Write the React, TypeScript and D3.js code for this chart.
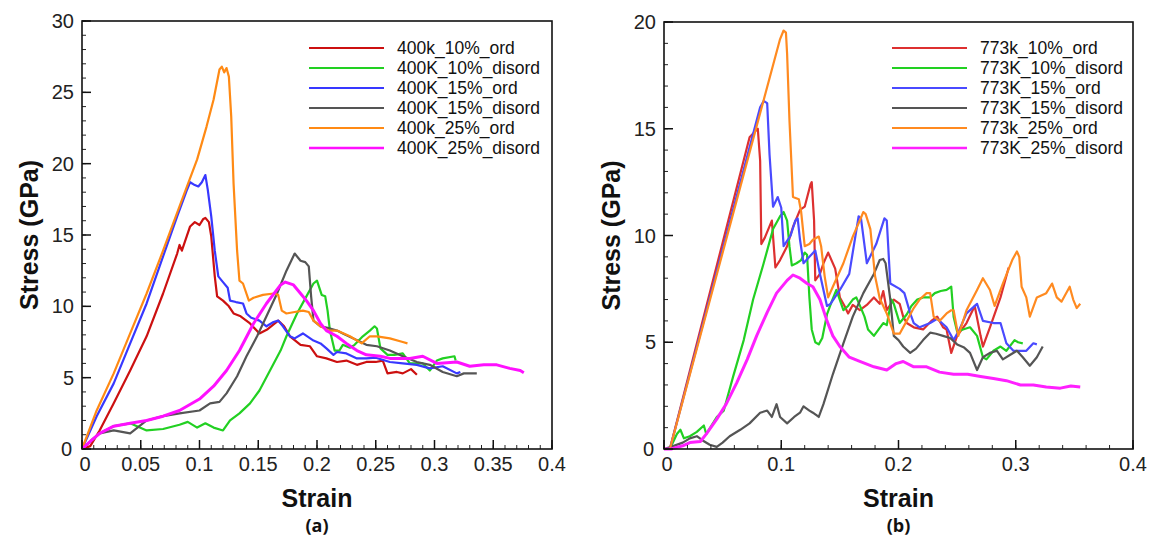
import React from "react";
import * as d3 from "d3";

type P = [number, number];

// ---------- Panel (a): 400 K ----------
const labelsA = ["400k_10%_ord", "400K_10%_disord", "400K_15%_ord", "400K_15%_disord", "400k_25%_ord", "400K_25%_disord"];

const a10ord: P[] = [[0,0],[0.007,0.2],[0.015,1.3],[0.027,3.2],[0.041,5.5],[0.055,7.9],[0.069,10.9],[0.081,13.7],[0.083,14.3],[0.085,13.9],[0.092,15.6],[0.096,15.9],[0.1,15.7],[0.103,16.1],[0.105,16.2],[0.108,15.9],[0.11,14.9],[0.113,12.1],[0.115,10.7],[0.12,10.4],[0.125,10.0],[0.129,9.5],[0.135,9.3],[0.143,8.8],[0.151,8.1],[0.158,8.4],[0.167,9.0],[0.172,8.6],[0.177,7.9],[0.186,7.3],[0.194,7.2],[0.2,6.5],[0.208,6.35],[0.217,6.1],[0.225,6.2],[0.234,5.9],[0.242,6.1],[0.25,6.1],[0.256,6.2],[0.26,5.3],[0.268,5.4],[0.273,5.3],[0.28,5.6],[0.285,5.2]];
const a10dis: P[] = [[0,0],[0.008,0.6],[0.015,1.1],[0.027,1.6],[0.041,1.8],[0.055,1.3],[0.069,1.4],[0.083,1.7],[0.09,1.9],[0.098,1.5],[0.105,1.8],[0.112,1.5],[0.12,1.3],[0.126,2.0],[0.134,2.5],[0.143,3.2],[0.151,4.1],[0.16,5.5],[0.169,6.9],[0.174,7.9],[0.183,9.5],[0.191,10.7],[0.197,11.6],[0.2,11.8],[0.204,10.8],[0.207,10.7],[0.209,9.7],[0.211,8.3],[0.215,6.9],[0.219,6.9],[0.222,7.3],[0.228,7.1],[0.232,7.3],[0.239,7.9],[0.245,8.3],[0.249,8.6],[0.251,8.45],[0.254,7.05],[0.26,6.6],[0.266,6.6],[0.273,6.7],[0.279,6.0],[0.29,6.0],[0.296,5.5],[0.302,6.2],[0.307,6.35],[0.317,6.5],[0.318,6.2]];
const a15ord: P[] = [[0,0],[0.0125,2.3],[0.027,4.6],[0.041,7.4],[0.055,10.2],[0.069,13.5],[0.081,16.3],[0.089,18.1],[0.092,18.7],[0.096,18.5],[0.099,18.4],[0.102,18.7],[0.105,19.2],[0.107,18.2],[0.11,16.3],[0.113,13.9],[0.116,12.1],[0.12,11.7],[0.124,11.3],[0.126,10.4],[0.131,10.3],[0.137,10.2],[0.14,9.5],[0.144,9.2],[0.151,9.0],[0.157,8.6],[0.163,8.9],[0.167,9.0],[0.171,8.6],[0.177,7.9],[0.181,7.75],[0.188,8.1],[0.197,7.6],[0.203,7.4],[0.208,7.05],[0.214,6.6],[0.217,6.8],[0.225,6.7],[0.234,6.35],[0.242,6.35],[0.25,6.4],[0.262,6.1],[0.273,6.0],[0.285,5.9],[0.296,5.65],[0.307,5.8],[0.319,5.3],[0.322,5.4]];
const a15dis: P[] = [[0,0],[0.008,0.6],[0.015,1.1],[0.027,1.3],[0.041,1.1],[0.055,2.0],[0.069,2.3],[0.083,2.5],[0.1,2.7],[0.109,3.2],[0.117,3.3],[0.123,3.9],[0.132,5.1],[0.14,6.5],[0.149,7.9],[0.157,9.3],[0.166,10.9],[0.174,12.5],[0.181,13.7],[0.186,13.2],[0.19,13.1],[0.193,12.8],[0.195,10.7],[0.197,9.0],[0.203,8.6],[0.211,8.45],[0.217,8.3],[0.222,8.1],[0.231,7.75],[0.242,7.3],[0.251,7.2],[0.262,6.9],[0.273,6.5],[0.285,6.1],[0.296,5.9],[0.307,5.4],[0.319,5.1],[0.325,5.3],[0.336,5.3]];
const a25ord: P[] = [[0,0],[0.0125,2.7],[0.027,5.3],[0.041,8.1],[0.055,10.9],[0.069,13.9],[0.083,17.0],[0.098,20.3],[0.106,22.6],[0.112,24.5],[0.117,26.6],[0.119,26.8],[0.121,26.4],[0.123,26.7],[0.125,26.1],[0.127,23.3],[0.129,18.6],[0.132,13.9],[0.134,11.8],[0.137,11.6],[0.142,10.4],[0.146,10.6],[0.154,10.8],[0.163,10.9],[0.167,10.8],[0.17,9.7],[0.174,9.5],[0.181,9.6],[0.188,9.7],[0.193,9.6],[0.197,9.0],[0.203,8.6],[0.21,8.3],[0.217,8.3],[0.228,7.9],[0.238,7.4],[0.245,7.9],[0.251,7.9],[0.262,7.75],[0.273,7.5],[0.277,7.4]];
const a25dis: P[] = [[0,0],[0.008,0.6],[0.015,1.1],[0.027,1.6],[0.041,1.8],[0.055,2.0],[0.069,2.3],[0.083,2.7],[0.1,3.5],[0.112,4.4],[0.123,5.5],[0.134,6.9],[0.146,8.8],[0.157,10.2],[0.169,11.5],[0.173,11.7],[0.18,11.5],[0.186,10.9],[0.191,10.4],[0.197,9.7],[0.203,8.8],[0.208,8.3],[0.217,7.9],[0.225,7.4],[0.234,6.9],[0.242,6.6],[0.254,6.5],[0.262,6.35],[0.279,6.35],[0.29,6.5],[0.302,6.0],[0.319,6.1],[0.33,5.8],[0.342,5.9],[0.353,5.9],[0.364,5.65],[0.373,5.5],[0.376,5.35]];

// ---------- Panel (b): 773 K ----------
const labelsB = ["773k_10%_ord", "773K_10%_disord", "773K_15%_ord", "773K_15%_disord", "773k_25%_ord", "773K_25%_disord"];

const b10ord: P[] = [[0,0],[0.005,0],[0.073,14.6],[0.078,14.9],[0.08,15.0],[0.082,13.5],[0.083,9.6],[0.086,9.9],[0.092,10.7],[0.095,8.5],[0.099,8.85],[0.105,9.5],[0.11,10.4],[0.116,11.2],[0.12,11.35],[0.125,12.4],[0.126,12.5],[0.128,10.7],[0.129,7.9],[0.133,8.2],[0.136,8.7],[0.14,9.2],[0.146,8.45],[0.15,7.1],[0.154,6.7],[0.157,6.35],[0.161,6.75],[0.167,6.5],[0.173,6.75],[0.179,7.1],[0.184,6.8],[0.187,7.4],[0.19,6.5],[0.196,7.0],[0.201,6.8],[0.204,6.2],[0.207,5.9],[0.213,5.7],[0.221,5.6],[0.228,6.0],[0.233,6.2],[0.238,5.7],[0.241,5.6],[0.245,4.5],[0.25,5.3],[0.258,5.9],[0.265,6.7],[0.27,5.3],[0.272,4.8],[0.278,5.7],[0.287,7.1],[0.294,8.5]];
const b10dis: P[] = [[0,0],[0.005,0],[0.011,0.7],[0.014,0.9],[0.017,0.5],[0.022,0.6],[0.028,0.8],[0.034,1.1],[0.036,0.7],[0.045,1.5],[0.051,1.8],[0.059,3.4],[0.068,5.1],[0.076,7.0],[0.085,8.7],[0.093,10.3],[0.099,10.9],[0.102,11.1],[0.105,10.7],[0.107,9.5],[0.109,8.6],[0.113,8.7],[0.117,8.85],[0.12,9.2],[0.122,9.1],[0.124,7.1],[0.126,5.6],[0.129,5.0],[0.132,4.9],[0.135,5.2],[0.139,6.3],[0.143,6.9],[0.147,7.45],[0.153,6.5],[0.157,6.7],[0.161,7.0],[0.164,7.1],[0.168,6.6],[0.171,6.2],[0.174,5.6],[0.179,5.3],[0.187,5.9],[0.19,5.8],[0.194,7.0],[0.196,6.8],[0.201,5.9],[0.207,6.3],[0.211,6.7],[0.216,7.0],[0.221,7.1],[0.227,7.1],[0.231,7.3],[0.236,7.4],[0.241,7.45],[0.245,7.6],[0.247,6.2],[0.25,5.5],[0.255,5.6],[0.261,5.7],[0.267,5.3],[0.272,4.3],[0.275,4.2],[0.281,4.6],[0.287,4.8],[0.292,4.6],[0.299,5.1],[0.302,5.0],[0.306,4.95]];
const b15ord: P[] = [[0,0],[0.005,0],[0.082,16.0],[0.085,16.3],[0.088,16.2],[0.09,13.8],[0.093,11.35],[0.097,11.8],[0.1,11.3],[0.102,9.5],[0.108,10.0],[0.112,10.7],[0.114,10.8],[0.116,9.8],[0.119,8.7],[0.124,9.0],[0.129,9.3],[0.133,8.2],[0.139,6.7],[0.142,6.8],[0.15,7.45],[0.158,8.2],[0.166,10.9],[0.168,10.8],[0.173,8.7],[0.181,9.6],[0.188,10.8],[0.19,10.7],[0.193,7.75],[0.201,7.5],[0.205,7.3],[0.21,6.35],[0.213,5.9],[0.218,5.7],[0.227,5.9],[0.233,6.1],[0.241,5.7],[0.247,5.1],[0.252,5.6],[0.258,6.35],[0.267,6.8],[0.272,6.0],[0.281,5.9],[0.287,5.9],[0.292,4.95],[0.298,4.6],[0.309,4.6],[0.315,4.95],[0.318,4.9]];
const b15dis: P[] = [[0,0],[0.006,0.1],[0.016,0.3],[0.022,0.5],[0.028,0.6],[0.033,0.4],[0.039,0.2],[0.045,0.1],[0.05,0.3],[0.056,0.6],[0.065,0.9],[0.073,1.2],[0.082,1.7],[0.088,1.8],[0.092,1.5],[0.096,2.1],[0.099,1.5],[0.105,1.2],[0.111,1.5],[0.116,1.7],[0.119,2.0],[0.124,1.8],[0.127,1.7],[0.132,1.5],[0.136,2.1],[0.144,3.5],[0.153,4.95],[0.161,6.2],[0.17,7.3],[0.179,8.2],[0.184,8.85],[0.187,8.9],[0.189,8.7],[0.193,7.0],[0.196,5.3],[0.2,5.1],[0.204,4.8],[0.21,4.5],[0.215,4.7],[0.221,5.1],[0.227,5.45],[0.232,5.4],[0.238,5.3],[0.244,5.2],[0.25,4.9],[0.256,4.75],[0.261,4.5],[0.267,3.7],[0.272,4.3],[0.278,4.5],[0.284,4.6],[0.289,4.2],[0.295,4.4],[0.301,4.6],[0.306,4.3],[0.312,3.9],[0.318,4.3],[0.323,4.8]];
const b25ord: P[] = [[0,0],[0.005,0],[0.099,19.2],[0.102,19.6],[0.104,19.5],[0.105,18.5],[0.107,15.4],[0.11,11.8],[0.115,11.7],[0.117,11.1],[0.12,9.5],[0.124,9.6],[0.127,9.8],[0.132,9.95],[0.134,9.5],[0.137,8.1],[0.14,7.1],[0.144,7.6],[0.153,8.7],[0.161,9.95],[0.167,10.7],[0.17,11.1],[0.172,11.0],[0.176,10.3],[0.18,8.1],[0.184,7.05],[0.19,6.35],[0.196,5.4],[0.201,5.4],[0.207,6.0],[0.213,6.6],[0.218,7.0],[0.224,7.3],[0.227,7.3],[0.23,6.2],[0.235,6.0],[0.241,6.35],[0.245,6.5],[0.247,6.5],[0.251,5.3],[0.258,6.5],[0.267,7.45],[0.272,8.0],[0.278,7.45],[0.282,6.7],[0.289,7.75],[0.297,8.85],[0.301,9.25],[0.303,9.0],[0.305,7.6],[0.309,7.1],[0.312,6.2],[0.318,7.1],[0.326,7.3],[0.331,7.75],[0.335,7.1],[0.339,6.9],[0.346,7.6],[0.349,7.0],[0.352,6.6],[0.355,6.8]];
const b25dis: P[] = [[0,0],[0.006,0],[0.016,0.15],[0.022,0.3],[0.031,0.35],[0.036,0.7],[0.045,1.4],[0.053,2.1],[0.062,3.1],[0.071,4.2],[0.079,5.3],[0.088,6.4],[0.096,7.3],[0.105,7.9],[0.11,8.15],[0.116,8.0],[0.122,7.75],[0.127,7.6],[0.133,7.0],[0.139,6.0],[0.144,5.3],[0.15,4.8],[0.158,4.3],[0.167,4.1],[0.179,3.85],[0.19,3.7],[0.198,4.0],[0.204,4.1],[0.213,3.85],[0.224,3.85],[0.235,3.6],[0.247,3.5],[0.259,3.5],[0.27,3.4],[0.281,3.3],[0.292,3.2],[0.304,3.0],[0.315,3.0],[0.326,2.9],[0.338,2.85],[0.347,2.95],[0.355,2.9]];

const xTicksA = [0, 0.05, 0.1, 0.15, 0.2, 0.25, 0.3, 0.35, 0.4];
const xTickLabelsA = ["0", "0.05", "0.1", "0.15", "0.2", "0.25", "0.3", "0.35", "0.4"];
const yTicksA = [0, 5, 10, 15, 20, 25, 30];
const xTicksB = [0, 0.1, 0.2, 0.3, 0.4];
const xTickLabelsB = ["0", "0.1", "0.2", "0.3", "0.4"];
const yTicksB = [0, 5, 10, 15, 20];

const colorsA = ["#cc1010", "#22d022", "#3838ff", "#555555", "#ff8a14", "#ff10ff"];
const colorsB = ["#dd3030", "#22d022", "#4a4aff", "#555555", "#ff8a20", "#ff20ff"];

const FONT = "'Liberation Sans', Arial, Helvetica, sans-serif";

interface PanelProps {
  x0: number; x1: number; y0: number; y1: number;
  xMax: number; yMax: number;
  xTicks: number[]; xTickLabels: string[]; xMinorStep: number;
  yTicks: number[]; yMinorStep: number;
  series: P[][]; labels: string[]; colors: string[];
  legendX: number; legendY: number;
  tag: string; yTitleX: number;
}

function Panel(p: PanelProps) {
  const x = d3.scaleLinear().domain([0, p.xMax]).range([p.x0, p.x1]);
  const y = d3.scaleLinear().domain([0, p.yMax]).range([p.y0, p.y1]);
  const line = d3.line<P>().x(d => x(d[0])).y(d => y(d[1]));
  const xMinor = d3.range(0, p.xMax + 1e-9, p.xMinorStep);
  const yMinor = d3.range(0, p.yMax + 1e-9, p.yMinorStep);
  const cx = (p.x0 + p.x1) / 2;
  const cy = (p.y0 + p.y1) / 2;
  return (
    <g>
      {p.series.map((s, i) => (
        <path key={i} d={line(s) || ""} fill="none" stroke={p.colors[i]}
          strokeWidth={i === 5 ? 3 : 2.2} strokeLinejoin="round" />
      ))}
      {xMinor.map((v, i) => (
        <line key={"xm" + i} x1={x(v)} x2={x(v)} y1={p.y0} y2={p.y0 - 4} stroke="#222" strokeWidth={1} />
      ))}
      {p.xTicks.map((v, i) => (
        <g key={"xt" + i}>
          <line x1={x(v)} x2={x(v)} y1={p.y0} y2={p.y0 - 9} stroke="#111" strokeWidth={1.5} />
          <text x={x(v) + (i === 0 ? 3 : 0)} y={p.y0 + 22} textAnchor="middle" fontSize={20} fontFamily={FONT} fill="#222">{p.xTickLabels[i]}</text>
        </g>
      ))}
      {yMinor.map((v, i) => (
        <line key={"ym" + i} x1={p.x0} x2={p.x0 + 4} y1={y(v)} y2={y(v)} stroke="#222" strokeWidth={1} />
      ))}
      {p.yTicks.map((v, i) => (
        <g key={"yt" + i}>
          <line x1={p.x0} x2={p.x0 + 9} y1={y(v)} y2={y(v)} stroke="#111" strokeWidth={1.5} />
          <text x={p.x0 - 8 - (v === 0 ? 2 : 0)} y={y(v) + 7} textAnchor="end" fontSize={20} fontFamily={FONT} fill="#222">{String(v)}</text>
        </g>
      ))}
      <rect x={p.x0} y={p.y1} width={p.x1 - p.x0} height={p.y0 - p.y1} fill="none" stroke="#111" strokeWidth={1.6} />
      {p.labels.map((l, i) => (
        <g key={"lg" + i}>
          <line x1={p.legendX} x2={p.legendX + 75} y1={p.legendY + i * 20} y2={p.legendY + i * 20} stroke={p.colors[i]} strokeWidth={i === 5 ? 2.5 : 2} />
          <text x={p.legendX + 88} y={p.legendY + i * 20 + 6} fontSize={17.5} fontFamily={FONT} fill="#111">{l}</text>
        </g>
      ))}
      <text x={cx} y={p.y0 + 58} textAnchor="middle" fontSize={25} fontWeight="bold" fontFamily={FONT} fill="#111">Strain</text>
      <text transform={`translate(${p.yTitleX},${cy}) rotate(-90)`} textAnchor="middle" fontSize={25} fontWeight="bold" fontFamily={FONT} fill="#111">Stress (GPa)</text>
      <text x={cx} y={p.y0 + 83} textAnchor="middle" fontSize={18} fontWeight="bold" fontFamily="'Open Sans', 'Liberation Sans', sans-serif" fill="#111">{p.tag}</text>
    </g>
  );
}

export default function App() {
  return (
    <svg width={1149} height={539} style={{ position: "absolute", left: 0, top: 0, background: "#fff" }}>
      <rect x={0} y={0} width={1149} height={539} fill="#fff" />
      <Panel x0={82} x1={552} y0={449} y1={21} xMax={0.4} yMax={30}
        xTicks={xTicksA} xTickLabels={xTickLabelsA} xMinorStep={0.01}
        yTicks={yTicksA} yMinorStep={1}
        series={[a10ord, a10dis, a15ord, a15dis, a25ord, a25dis]} labels={labelsA} colors={colorsA}
        legendX={309} legendY={48} tag="(a)" yTitleX={38} />
      <Panel x0={664} x1={1133} y0={449} y1={22} xMax={0.4} yMax={20}
        xTicks={xTicksB} xTickLabels={xTickLabelsB} xMinorStep={0.02}
        yTicks={yTicksB} yMinorStep={1}
        series={[b10ord, b10dis, b15ord, b15dis, b25ord, b25dis]} labels={labelsB} colors={colorsB}
        legendX={892} legendY={48} tag="(b)" yTitleX={620} />
    </svg>
  );
}
